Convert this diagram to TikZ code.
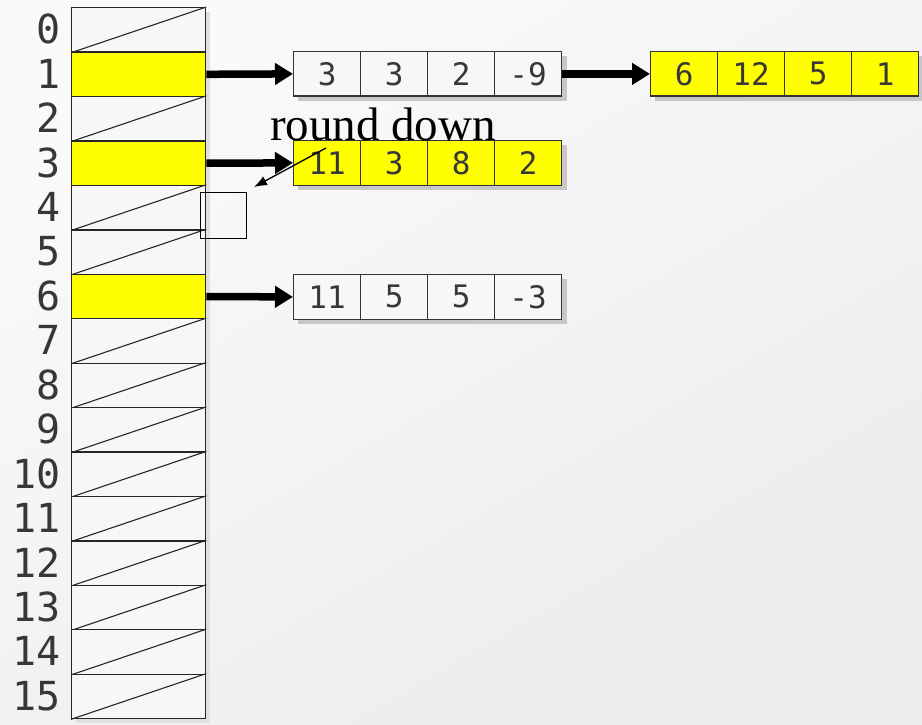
\documentclass[tikz,border=0pt]{standalone}
\usepackage{fontspec}
\setmonofont{DejaVu Sans Mono}
\newfontfamily\rdfont{Liberation Serif}
\usetikzlibrary{arrows.meta}
\definecolor{cellyellow}{RGB}{255,255,0}
\definecolor{txtgray}{RGB}{55,55,55}
\definecolor{bgtop}{RGB}{250,250,250}
\definecolor{bgbot}{RGB}{236,236,236}
\tikzset{
  rowcell/.style={draw=black!85, line width=1.3pt, minimum width=134pt, minimum height=44.44pt, inner sep=0pt, anchor=north west},
  listcell/.style={draw=black!80, line width=1.3pt, minimum width=67pt, minimum height=44.5pt, inner sep=0pt, anchor=north west, font=\ttfamily\fontsize{31}{31}\selectfont, text=txtgray},
  idxlabel/.style={anchor=east, inner sep=0pt, font=\ttfamily\fontsize{40}{40}\selectfont, text=txtgray},
  bigarrow/.style={line width=7.5pt, -{Triangle[length=18pt,width=21pt]}},
  thinarrow/.style={line width=1.3pt, -{Latex[length=13pt,width=10pt]}},
  shadowbox/.style={fill=black!22, draw=none},
}
\begin{document}
\begin{tikzpicture}[x=1pt,y=-1pt]
\useasboundingbox (0,0) rectangle (922,725);
\shade[top color=bgtop, bottom color=bgbot, shading angle=30] (0,0) rectangle (922,725);
% shadows
\fill[black!12] (76,12) rectangle (210,723);
\foreach \y in {51,140,274} {\fill[shadowbox] (298,\y+5) rectangle (567,\y+50);}
\fill[shadowbox] (655,56) rectangle (923,101);
% table rows
\foreach \k in {0,...,15} {
  \pgfmathsetmacro{\yy}{7+44.44*\k}
  \ifnum\k=1 \node[rowcell, fill=cellyellow] (r\k) at (71,\yy) {};
  \else\ifnum\k=3 \node[rowcell, fill=cellyellow] (r\k) at (71,\yy) {};
  \else\ifnum\k=6 \node[rowcell, fill=cellyellow] (r\k) at (71,\yy) {};
  \else \node[rowcell, fill=black!3] (r\k) at (71,\yy) {};
        \draw[line width=1.1pt, black!85] (r\k.south west) -- (r\k.north east);
  \fi\fi\fi
  \node[idxlabel] (l\k) at (61,\yy+22.2) {\k};
}
% lists
\foreach \v [count=\i] in {3,3,2,-9} {\node[listcell, fill=black!3] (a\i) at (293+67*\i-67,51) {\v};}
\foreach \v [count=\i] in {6,12,5,1} {\node[listcell, fill=cellyellow] (b\i) at (650+67*\i-67,51) {\v};}
\foreach \v [count=\i] in {11,3,8,2} {\node[listcell, fill=cellyellow] (c\i) at (293+67*\i-67,140) {\v};}
\foreach \v [count=\i] in {11,5,5,-3} {\node[listcell, fill=black!3] (d\i) at (293+67*\i-67,274) {\v};}
% arrows
\draw[bigarrow] (r1.east) -- (a1.west);
\draw[bigarrow] (a4.east) -- (b1.west);
\draw[bigarrow] (r3.east) -- (c1.west);
\draw[bigarrow] (r6.east) -- (d1.west);
% small box
\node[draw=black, line width=1.3pt, minimum width=46pt, minimum height=46pt, inner sep=0pt, anchor=north west] (sq) at (200,192) {};
% label and thin arrow
\node[inner sep=0pt, font=\rdfont\fontsize{47}{47}\selectfont, anchor=base] (rd) at (383,140) {round down};
\coordinate (rdA) at (326,148);
\coordinate (rdB) at (254,187);
\draw[thinarrow] (rdA) -- (rdB);
\end{tikzpicture}
\end{document}
